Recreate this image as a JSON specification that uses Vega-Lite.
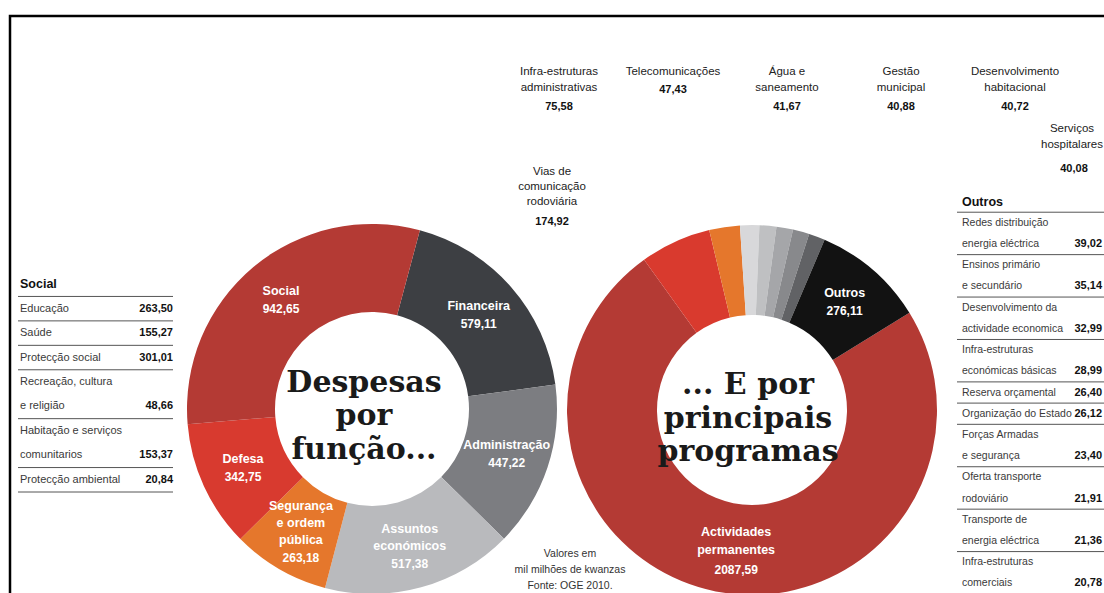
{
  "$schema": "https://vega.github.io/schema/vega-lite/v6.json",
  "background": "white",
  "padding": {"left": 8, "top": 14, "right": 0, "bottom": 0},
  "spacing": 0,
  "bounds": "flush",
  "resolve": {"scale": {"x": "independent", "y": "independent", "color": "independent", "theta": "independent"}},
  "config": {
    "locale": {"number": {"decimal": ",", "thousands": ".", "grouping": [3], "currency": ["", ""]}},
    "view": {"stroke": null},
    "text": {"font": "'Liberation Sans', Arial, sans-serif"}
  },
  "datasets": {
    "social": [
      {"linhas": ["Social"], "valor": null},
      {"linhas": ["Educação"], "valor": 263.50},
      {"linhas": ["Saúde"], "valor": 155.27},
      {"linhas": ["Protecção social"], "valor": 301.01},
      {"linhas": ["Recreação, cultura", "e religião"], "valor": 48.66},
      {"linhas": ["Habitação e serviços", "comunitarios"], "valor": 153.37},
      {"linhas": ["Protecção ambiental"], "valor": 20.84}
    ],
    "outros": [
      {"linhas": ["Outros"], "valor": null},
      {"linhas": ["Redes distribuição", "energia eléctrica"], "valor": 39.02},
      {"linhas": ["Ensinos primário", "e secundário"], "valor": 35.14},
      {"linhas": ["Desenvolvimento da", "actividade economica"], "valor": 32.99},
      {"linhas": ["Infra-estruturas", "económicas básicas"], "valor": 28.99},
      {"linhas": ["Reserva orçamental"], "valor": 26.40},
      {"linhas": ["Organização do Estado"], "valor": 26.12},
      {"linhas": ["Forças Armadas", "e segurança"], "valor": 23.40},
      {"linhas": ["Oferta transporte", "rodoviário"], "valor": 21.91},
      {"linhas": ["Transporte de", "energia eléctrica"], "valor": 21.36},
      {"linhas": ["Infra-estruturas", "comerciais"], "valor": 20.78}
    ],
    "funcoes": [
      {"funcao": "Financeira", "rotulo": "Financeira", "valor": 579.11},
      {"funcao": "Administração", "rotulo": "Administração", "valor": 447.22},
      {"funcao": "Assuntos económicos", "rotulo": "Assuntos\neconómicos", "valor": 517.38},
      {"funcao": "Segurança e ordem pública", "rotulo": "Segurança\ne ordem\npública", "valor": 263.18},
      {"funcao": "Defesa", "rotulo": "Defesa", "valor": 342.75},
      {"funcao": "Social", "rotulo": "Social", "valor": 942.65}
    ],
    "programas": [
      {"programa": "Actividades permanentes", "rotulo": "Actividades\npermanentes", "valor": 2087.59},
      {"programa": "Vias de comunicação rodoviária", "rotulo": "Vias de\ncomunicação\nrodoviária", "valor": 174.92},
      {"programa": "Infra-estruturas administrativas", "rotulo": "Infra-estruturas\nadministrativas", "valor": 75.58},
      {"programa": "Telecomunicações", "rotulo": "Telecomunicações", "valor": 47.43},
      {"programa": "Água e saneamento", "rotulo": "Água e\nsaneamento", "valor": 41.67},
      {"programa": "Gestão municipal", "rotulo": "Gestão\nmunicipal", "valor": 40.88},
      {"programa": "Desenvolvimento habitacional", "rotulo": "Desenvolvimento\nhabitacional", "valor": 40.72},
      {"programa": "Serviços hospitalares", "rotulo": "Serviços\nhospitalares", "valor": 40.08},
      {"programa": "Outros", "rotulo": "Outros", "valor": 276.11}
    ]
  },
  "hconcat": [
    {
      "width": 187,
      "height": 579,
      "view": {"stroke": "black", "strokeWidth": 2.5, "strokeDash": [187, 766, 600]},
      "data": {"name": "social"},
      "transform": [
        {"window": [{"op": "row_number", "as": "i"}]},
        {"flatten": ["linhas"], "as": ["linha"]},
        {"window": [{"op": "row_number", "as": "n"}]},
        {"window": [{"op": "row_number", "as": "k"}, {"op": "count", "as": "m"}], "groupby": ["i"], "sort": [{"field": "n"}], "frame": [null, null]}
      ],
      "layer": [
        {
          "transform": [{"filter": "datum.k == datum.m"}],
          "mark": {"type": "rule", "color": "#555555", "strokeWidth": 1},
          "encoding": {
            "y": {"field": "n", "type": "ordinal", "bandPosition": 1, "axis": null, "scale": {"type": "band", "range": [256, 476], "paddingInner": 0, "paddingOuter": 0}},
            "x": {"datum": 0, "type": "quantitative", "axis": null, "scale": {"domain": [0, 1], "range": [8, 163], "nice": false, "zero": false}},
            "x2": {"datum": 1}
          }
        },
        {
          "transform": [{"filter": "datum.valor == null"}],
          "mark": {"type": "text", "align": "left", "baseline": "middle", "dx": 2, "fontSize": 12.5, "fontWeight": "bold", "color": "#111111"},
          "encoding": {
            "y": {"field": "n", "type": "ordinal", "axis": null},
            "x": {"datum": 0, "type": "quantitative", "axis": null},
            "text": {"field": "linha"}
          }
        },
        {
          "transform": [{"filter": "datum.valor != null"}],
          "mark": {"type": "text", "align": "left", "baseline": "middle", "dx": 2, "fontSize": 11, "color": "#3a3a3a"},
          "encoding": {
            "y": {"field": "n", "type": "ordinal", "axis": null},
            "x": {"datum": 0, "type": "quantitative", "axis": null},
            "text": {"field": "linha"}
          }
        },
        {
          "transform": [{"filter": "datum.valor != null && datum.k == datum.m"}],
          "mark": {"type": "text", "align": "right", "baseline": "middle", "fontSize": 11, "fontWeight": "bold", "color": "#111111"},
          "encoding": {
            "y": {"field": "n", "type": "ordinal", "axis": null},
            "x": {"datum": 1, "type": "quantitative", "axis": null},
            "text": {"field": "valor", "type": "quantitative", "format": ".2f"}
          }
        }
      ]
    },
    {
      "width": 350,
      "height": 579,
      "view": {"stroke": "black", "strokeWidth": 2.5, "strokeDash": [350, 3000]},
      "layer": [
        {
          "data": {"name": "funcoes"},
          "transform": [{"window": [{"op": "row_number", "as": "i"}]}],
          "encoding": {
            "theta": {"field": "valor", "type": "quantitative", "stack": true, "scale": {"range": [0.2618, 6.5450]}},
            "order": {"field": "i", "type": "quantitative"}
          },
          "layer": [
            {
              "mark": {"type": "arc", "innerRadius": 97, "outerRadius": 185, "yOffset": 103.5},
              "encoding": {
                "color": {"field": "funcao", "type": "nominal", "legend": null, "scale": {
                  "domain": ["Financeira", "Administração", "Assuntos económicos", "Segurança e ordem pública", "Defesa", "Social"],
                  "range": ["#3d3f43", "#7c7d81", "#b9babd", "#e5772c", "#d83a2f", "#b43a34"]}}
              }
            },
            {
              "mark": {"type": "text", "radius": 142, "yOffset": 103.5, "baseline": "middle", "dy": -9, "lineBreak": "\n", "lineHeight": 17, "fontSize": 12.5, "fontWeight": "bold", "color": "white"},
              "encoding": {"text": {"condition": {"test": {"field": "funcao", "oneOf": ["Financeira", "Administração", "Defesa", "Social"]}, "field": "rotulo", "type": "nominal"}, "value": ""}}
            },
            {
              "mark": {"type": "text", "radius": 142, "yOffset": 103.5, "baseline": "middle", "dy": 9, "fontSize": 12, "fontWeight": "bold", "color": "white"},
              "encoding": {"text": {"condition": {"test": {"field": "funcao", "oneOf": ["Financeira", "Administração", "Defesa", "Social"]}, "field": "valor", "type": "quantitative", "format": ".2f"}, "value": ""}}
            },
            {
              "mark": {"type": "text", "radius": 142, "yOffset": 103.5, "baseline": "middle", "dy": -17, "lineBreak": "\n", "lineHeight": 17, "fontSize": 12.5, "fontWeight": "bold", "color": "white"},
              "encoding": {"text": {"condition": {"test": {"field": "funcao", "equal": "Assuntos económicos"}, "field": "rotulo", "type": "nominal"}, "value": ""}}
            },
            {
              "mark": {"type": "text", "radius": 142, "yOffset": 103.5, "baseline": "middle", "dy": 18, "fontSize": 12, "fontWeight": "bold", "color": "white"},
              "encoding": {"text": {"condition": {"test": {"field": "funcao", "equal": "Assuntos económicos"}, "field": "valor", "type": "quantitative", "format": ".2f"}, "value": ""}}
            },
            {
              "mark": {"type": "text", "radius": 142, "yOffset": 103.5, "baseline": "middle", "dy": -26, "lineBreak": "\n", "lineHeight": 17, "fontSize": 12.5, "fontWeight": "bold", "color": "white"},
              "encoding": {"text": {"condition": {"test": {"field": "funcao", "equal": "Segurança e ordem pública"}, "field": "rotulo", "type": "nominal"}, "value": ""}}
            },
            {
              "mark": {"type": "text", "radius": 142, "yOffset": 103.5, "baseline": "middle", "dy": 26, "fontSize": 12, "fontWeight": "bold", "color": "white"},
              "encoding": {"text": {"condition": {"test": {"field": "funcao", "equal": "Segurança e ordem pública"}, "field": "valor", "type": "quantitative", "format": ".2f"}, "value": ""}}
            }
          ]
        },
        {
          "data": {"values": [{"titulo": "Despesas\npor\nfunção..."}]},
          "mark": {"type": "text", "font": "'DejaVu Serif', serif", "fontWeight": "bold", "fontSize": 30, "lineHeight": 33.5, "lineBreak": "\n", "baseline": "middle", "dx": -8, "dy": 77, "color": "#1a1a1a"},
          "encoding": {"text": {"field": "titulo"}}
        }
      ]
    },
    {
      "width": 410,
      "height": 579,
      "view": {"stroke": "black", "strokeWidth": 2.5, "strokeDash": [410, 3000]},
      "layer": [
        {
          "data": {"name": "programas"},
          "transform": [{"window": [{"op": "row_number", "as": "i"}]}],
          "layer": [
            {
              "encoding": {
                "theta": {"field": "valor", "type": "quantitative", "stack": true, "scale": {"range": [1.0175, 7.3007]}},
                "order": {"field": "i", "type": "quantitative"}
              },
              "layer": [
                {
                  "mark": {"type": "arc", "innerRadius": 95, "outerRadius": 185, "yOffset": 104.5},
                  "encoding": {
                    "color": {"field": "programa", "type": "nominal", "legend": null, "scale": {
                      "domain": ["Actividades permanentes", "Vias de comunicação rodoviária", "Infra-estruturas administrativas", "Telecomunicações", "Água e saneamento", "Gestão municipal", "Desenvolvimento habitacional", "Serviços hospitalares", "Outros"],
                      "range": ["#b43a34", "#d93a2e", "#e5772c", "#d8d8da", "#bfc0c2", "#a5a6a9", "#88898c", "#616265", "#121212"]}}
                  }
                },
                {
                  "mark": {"type": "text", "radius": 142, "yOffset": 104.5, "baseline": "middle", "dy": -9, "lineBreak": "\n", "lineHeight": 17, "fontSize": 12.5, "fontWeight": "bold", "color": "white"},
                  "encoding": {"text": {"condition": {"test": {"field": "programa", "equal": "Outros"}, "field": "rotulo", "type": "nominal"}, "value": ""}}
                },
                {
                  "mark": {"type": "text", "radius": 142, "yOffset": 104.5, "baseline": "middle", "dy": 9, "fontSize": 12, "fontWeight": "bold", "color": "white"},
                  "encoding": {"text": {"condition": {"test": {"field": "programa", "equal": "Outros"}, "field": "valor", "type": "quantitative", "format": ".2f"}, "value": ""}}
                },
                {
                  "mark": {"type": "text", "radius": 142, "yOffset": 104.5, "dx": 12, "baseline": "middle", "dy": -17, "lineBreak": "\n", "lineHeight": 18, "fontSize": 12.5, "fontWeight": "bold", "color": "white"},
                  "encoding": {"text": {"condition": {"test": {"field": "programa", "equal": "Actividades permanentes"}, "field": "rotulo", "type": "nominal"}, "value": ""}}
                },
                {
                  "mark": {"type": "text", "radius": 142, "yOffset": 104.5, "dx": 12, "baseline": "middle", "dy": 21, "fontSize": 12, "fontWeight": "bold", "color": "white"},
                  "encoding": {"text": {"condition": {"test": {"field": "programa", "equal": "Actividades permanentes"}, "field": "valor", "type": "quantitative", "format": ".2f"}, "value": ""}}
                }
              ]
            },
            {
              "transform": [{"filter": {"field": "programa", "oneOf": ["Infra-estruturas administrativas", "Telecomunicações", "Água e saneamento", "Gestão municipal", "Desenvolvimento habitacional"]}}],
              "mark": {"type": "text", "baseline": "middle", "dy": -233.5, "lineBreak": "\n", "lineHeight": 16, "fontSize": 11.5, "color": "#222222"},
              "encoding": {
                "x": {"field": "programa", "type": "nominal", "axis": null, "scale": {"type": "point", "padding": 0, "range": [12, 468],
                  "domain": ["Infra-estruturas administrativas", "Telecomunicações", "Água e saneamento", "Gestão municipal", "Desenvolvimento habitacional"]}},
                "text": {"field": "rotulo"}
              }
            },
            {
              "transform": [{"filter": {"field": "programa", "oneOf": ["Infra-estruturas administrativas", "Água e saneamento", "Gestão municipal", "Desenvolvimento habitacional"]}}],
              "mark": {"type": "text", "baseline": "middle", "dy": -198.5, "fontSize": 11, "fontWeight": "bold", "color": "#111111"},
              "encoding": {
                "x": {"field": "programa", "type": "nominal", "axis": null},
                "text": {"field": "valor", "type": "quantitative", "format": ".2f"}
              }
            },
            {
              "transform": [{"filter": {"field": "programa", "equal": "Telecomunicações"}}],
              "mark": {"type": "text", "baseline": "middle", "dy": -215.5, "fontSize": 11, "fontWeight": "bold", "color": "#111111"},
              "encoding": {
                "x": {"field": "programa", "type": "nominal", "axis": null},
                "text": {"field": "valor", "type": "quantitative", "format": ".2f"}
              }
            },
            {
              "transform": [{"filter": {"field": "programa", "equal": "Serviços hospitalares"}}],
              "mark": {"type": "text", "baseline": "middle", "dx": 320, "dy": -176.5, "lineBreak": "\n", "lineHeight": 16, "fontSize": 11.5, "color": "#222222"},
              "encoding": {"text": {"field": "rotulo"}}
            },
            {
              "transform": [{"filter": {"field": "programa", "equal": "Serviços hospitalares"}}],
              "mark": {"type": "text", "baseline": "middle", "dx": 322, "dy": -136.5, "fontSize": 11, "fontWeight": "bold", "color": "#111111"},
              "encoding": {"text": {"field": "valor", "type": "quantitative", "format": ".2f"}}
            },
            {
              "transform": [{"filter": {"field": "programa", "equal": "Vias de comunicação rodoviária"}}],
              "mark": {"type": "text", "baseline": "middle", "dx": -200, "dy": -133.5, "lineBreak": "\n", "lineHeight": 15, "fontSize": 11.5, "color": "#222222"},
              "encoding": {"text": {"field": "rotulo"}}
            },
            {
              "transform": [{"filter": {"field": "programa", "equal": "Vias de comunicação rodoviária"}}],
              "mark": {"type": "text", "baseline": "middle", "dx": -200, "dy": -83.5, "fontSize": 11, "fontWeight": "bold", "color": "#111111"},
              "encoding": {"text": {"field": "valor", "type": "quantitative", "format": ".2f"}}
            }
          ]
        },
        {
          "data": {"values": [{"titulo": "... E por\nprincipais\nprogramas"}]},
          "mark": {"type": "text", "font": "'DejaVu Serif', serif", "fontWeight": "bold", "fontSize": 30, "lineHeight": 33.5, "lineBreak": "\n", "baseline": "middle", "dx": -4, "dy": 79.5, "color": "#1a1a1a"},
          "encoding": {"text": {"field": "titulo"}}
        },
        {
          "data": {"values": [{"nota": "Valores em\nmil milhões de kwanzas\nFonte: OGE 2010."}]},
          "mark": {"type": "text", "fontSize": 10.5, "lineHeight": 16, "lineBreak": "\n", "baseline": "middle", "dx": -182, "dy": 248.5, "color": "#333333"},
          "encoding": {"text": {"field": "nota"}}
        }
      ]
    },
    {
      "width": 149,
      "height": 579,
      "view": {"stroke": "black", "strokeWidth": 2.5, "strokeDash": [149, 3000]},
      "data": {"name": "outros"},
      "transform": [
        {"window": [{"op": "row_number", "as": "i"}]},
        {"joinaggregate": [{"op": "max", "field": "i", "as": "imax"}]},
        {"flatten": ["linhas"], "as": ["linha"]},
        {"window": [{"op": "row_number", "as": "n"}]},
        {"window": [{"op": "row_number", "as": "k"}, {"op": "count", "as": "m"}], "groupby": ["i"], "sort": [{"field": "n"}], "frame": [null, null]}
      ],
      "layer": [
        {
          "transform": [{"filter": "datum.k == datum.m && datum.i < datum.imax"}],
          "mark": {"type": "rule", "color": "#555555", "strokeWidth": 1},
          "encoding": {
            "y": {"field": "n", "type": "ordinal", "bandPosition": 1, "axis": null, "scale": {"type": "band", "range": [175, 578], "paddingInner": 0, "paddingOuter": 0}},
            "x": {"datum": 0, "type": "quantitative", "axis": null, "scale": {"domain": [0, 1], "range": [0, 149], "nice": false, "zero": false}},
            "x2": {"datum": 1}
          }
        },
        {
          "transform": [{"filter": "datum.valor == null"}],
          "mark": {"type": "text", "align": "left", "baseline": "middle", "dx": 5, "fontSize": 12.5, "fontWeight": "bold", "color": "#111111"},
          "encoding": {
            "y": {"field": "n", "type": "ordinal", "axis": null},
            "x": {"datum": 0, "type": "quantitative", "axis": null},
            "text": {"field": "linha"}
          }
        },
        {
          "transform": [{"filter": "datum.valor != null"}],
          "mark": {"type": "text", "align": "left", "baseline": "middle", "dx": 5, "fontSize": 10.5, "color": "#3a3a3a"},
          "encoding": {
            "y": {"field": "n", "type": "ordinal", "axis": null},
            "x": {"datum": 0, "type": "quantitative", "axis": null},
            "text": {"field": "linha"}
          }
        },
        {
          "transform": [{"filter": "datum.valor != null && datum.k == datum.m"}],
          "mark": {"type": "text", "align": "right", "baseline": "middle", "dx": -4, "fontSize": 11, "fontWeight": "bold", "color": "#111111"},
          "encoding": {
            "y": {"field": "n", "type": "ordinal", "axis": null},
            "x": {"datum": 1, "type": "quantitative", "axis": null},
            "text": {"field": "valor", "type": "quantitative", "format": ".2f"}
          }
        }
      ]
    }
  ]
}
